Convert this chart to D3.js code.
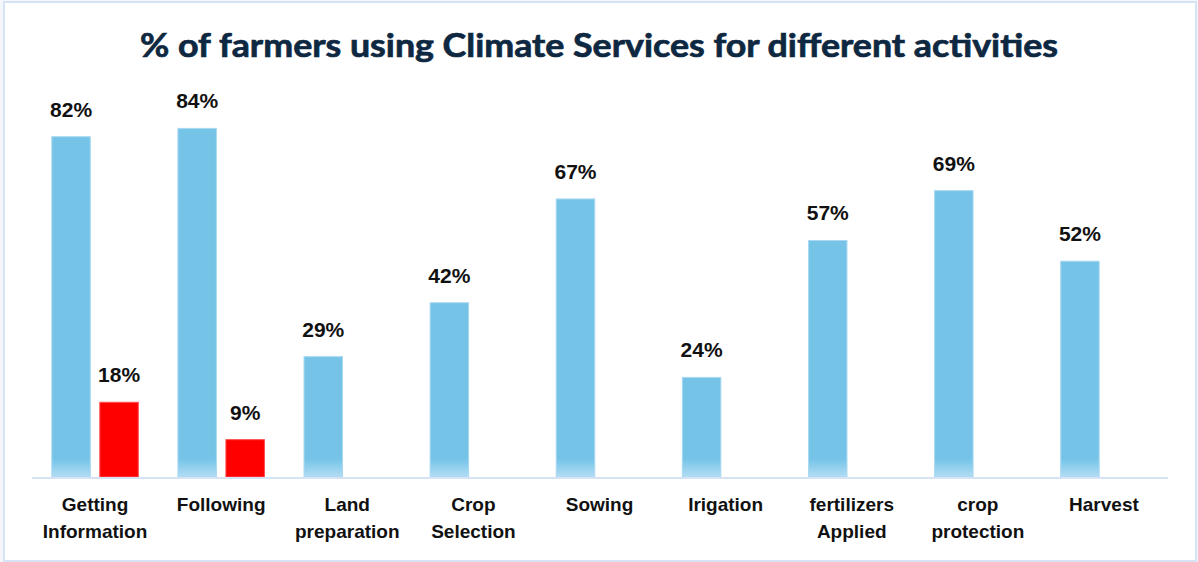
<!DOCTYPE html>
<html><head><meta charset="utf-8">
<script src="https://cdn.jsdelivr.net/npm/d3@7"></script>
<style>
html,body{margin:0;padding:0;background:#fff;}
svg{display:block;}
</style></head>
<body>
<svg id="chart" width="1198" height="562"></svg>
<script>
const title = "% of farmers using Climate Services for different activities";
const categories = ["Getting Information","Following","Land preparation","Crop Selection","Sowing","Irigation","fertilizers Applied","crop protection","Harvest"];
const categoryLines = [["Getting","Information"],["Following"],["Land","preparation"],["Crop","Selection"],["Sowing"],["Irigation"],["fertilizers","Applied"],["crop","protection"],["Harvest"]];
const seriesA = [82,84,29,42,67,24,57,69,52];
const seriesB = [18,9,null,null,null,null,null,null,null];
const seriesKeys = ["a","b"];
const colorA = "#75C4E8", colorA2 = "#B3DDF3", colorB = "#FF0000";

const svg = d3.select("#chart");
const W = 1198, H = 562;

// frame
svg.append("rect").attr("x",0).attr("y",0).attr("width",W).attr("height",H).attr("fill","#f4f6f9");
svg.append("rect").attr("x",4).attr("y",2).attr("width",W-6).attr("height",H-3).attr("fill","#fff")
  .attr("stroke","#d6e3f4").attr("stroke-width",2);

const defs = svg.append("defs");
const grad = defs.append("linearGradient").attr("id","gA").attr("x1",0).attr("y1",0).attr("x2",0).attr("y2",1)
  .attr("gradientUnits","userSpaceOnUse");

const x0 = d3.scaleBand().domain(categories).range([32,1167]).paddingInner(0).paddingOuter(0);
const y = d3.scaleLinear().domain([0,100]).range([477,62]);
const groupW = 86.5;
const x1 = d3.scaleBand().domain(seriesKeys).range([0,groupW]).paddingInner(0.198).paddingOuter(0);

grad.attr("y1", y(0)-18).attr("y2", y(0));
grad.append("stop").attr("offset","0%").attr("stop-color",colorA);
grad.append("stop").attr("offset","100%").attr("stop-color",colorA2);

svg.append("text").attr("x",599).attr("y",57).attr("text-anchor","middle")
  .attr("font-family","Lato, 'Open Sans', sans-serif").attr("font-weight",700).attr("font-size",33)
  .attr("fill","#0E2841").attr("stroke","#0E2841").attr("stroke-width",0.7)
  .attr("textLength",918).attr("lengthAdjust","spacingAndGlyphs").text(title);

const data = categories.map((c,i)=>({c, vals:[{k:"a",v:seriesA[i]},{k:"b",v:seriesB[i]}].filter(d=>d.v!=null)}));

const g = svg.selectAll("g.grp").data(data).join("g").attr("class","grp")
  .attr("transform",d=>`translate(${x0(d.c)+(x0.bandwidth()-groupW)/2},0)`);

g.selectAll("rect").data(d=>d.vals).join("rect")
  .attr("x",d=>x1(d.k)).attr("width",x1.bandwidth())
  .attr("y",d=>y(d.v)).attr("height",d=>y(0)-y(d.v))
  .attr("fill",d=>d.k==="a"?"url(#gA)":colorB)
  .attr("stroke",d=>d.k==="a"?"#a9d8f1":"#ff4d4d").attr("stroke-width",1);

g.selectAll("text.val").data(d=>d.vals).join("text").attr("class","val")
  .attr("x",d=>x1(d.k)+x1.bandwidth()/2).attr("y",d=>y(d.v)-20)
  .attr("text-anchor","middle").attr("font-family","'Liberation Sans', Arial, sans-serif")
  .attr("font-weight",700).attr("font-size",21).attr("fill","#111").text(d=>d.v+"%");

// axis
svg.append("line").attr("x1",32).attr("x2",1168).attr("y1",y(0)+1).attr("y2",y(0)+1)
  .attr("stroke","#d5e3f4").attr("stroke-width",2);

const xAxis = d3.axisBottom(x0).tickSize(0).tickFormat("");
const ax = svg.append("g").attr("transform",`translate(0,${y(0)})`).call(xAxis);
ax.select(".domain").remove();
ax.selectAll(".tick").each(function(c,i){
  const t = d3.select(this).append("text").attr("text-anchor","middle")
    .attr("font-family","'Liberation Sans', Arial, sans-serif").attr("font-weight",700)
    .attr("font-size",19).attr("fill","#111");
  categoryLines[i].forEach((ln,j)=>{
    t.append("tspan").attr("x",0).attr("y",34+j*27).text(ln);
  });
});
</script>
</body></html>
